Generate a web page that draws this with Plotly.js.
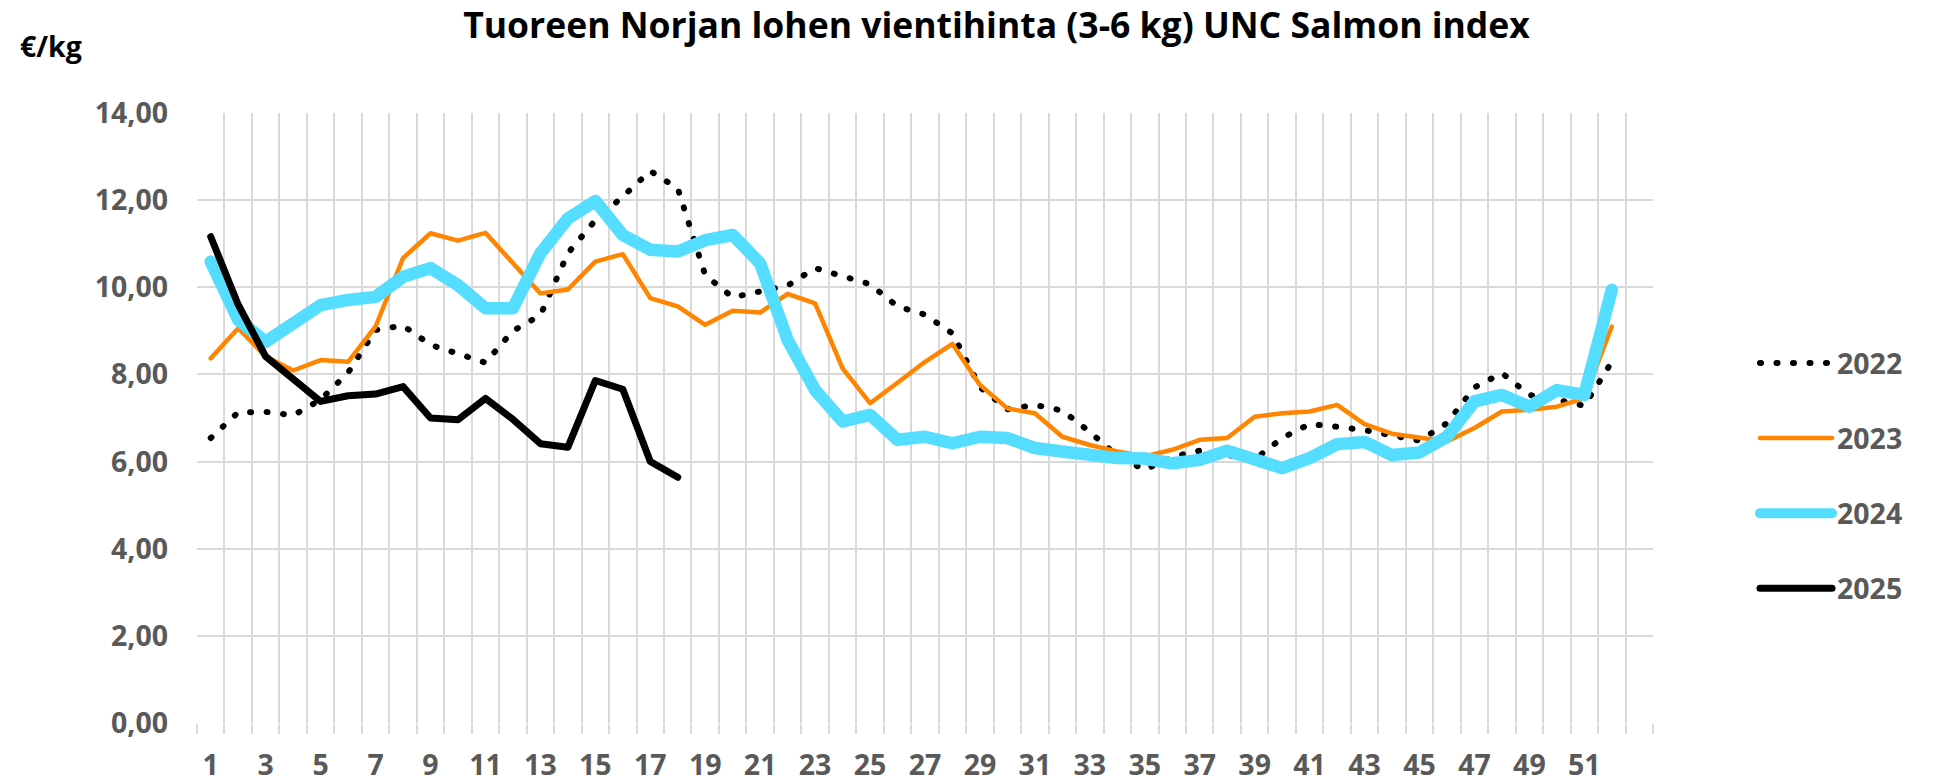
<!DOCTYPE html>
<html>
<head>
<meta charset="utf-8">
<script src="https://cdn.plot.ly/plotly-3.0.1.min.js"></script>
<style>
  html, body { margin: 0; padding: 0; background: #ffffff; }
  #chart { width: 1935px; height: 782px; }
  .js-line { stroke-linecap: round !important; stroke-linejoin: round !important; }
</style>
</head>
<body>
<div id="chart"></div>
<script>
// ---- data ----
const weeks = [1,2,3,4,5,6,7,8,9,10,11,12,13,14,15,16,17,18,19,20,21,22,23,24,25,26,
               27,28,29,30,31,32,33,34,35,36,37,38,39,40,41,42,43,44,45,46,47,48,49,50,51,52];
const weeks2025 = [1,2,3,4,5,6,7,8,9,10,11,12,13,14,15,16,17,18];
const tickWeeks = [1,3,5,7,9,11,13,15,17,19,21,23,25,27,29,31,33,35,37,39,41,43,45,47,49,51];
const tickLabels = ['1','3','5','7','9','11','13','15','17','19','21','23','25','27','29','31','33','35','37','39','41','43','45','47','49','51'];
const seriesNames = ['2022','2023','2024','2025'];

const price2022 = [6.54,7.13,7.14,7.06,7.42,8.04,9.02,9.12,8.68,8.49,8.27,9.00,9.36,10.78,11.54,12.08,12.67,12.27,
                   10.28,9.77,9.92,10.04,10.44,10.26,10.07,9.56,9.37,8.94,7.71,7.20,7.30,7.17,6.68,6.13,5.81,6.11,
                   6.25,6.15,6.05,6.54,6.86,6.80,6.72,6.60,6.48,6.88,7.70,8.03,7.53,7.42,7.28,8.29];
const price2023 = [8.37,9.06,8.41,8.09,8.33,8.29,9.10,10.67,11.24,11.07,11.25,10.55,9.86,9.95,10.59,10.76,9.75,9.56,
                   9.14,9.46,9.42,9.85,9.63,8.14,7.34,7.81,8.29,8.70,7.76,7.22,7.11,6.57,6.38,6.23,6.12,6.27,
                   6.50,6.54,7.03,7.11,7.15,7.30,6.86,6.64,6.54,6.46,6.77,7.15,7.19,7.26,7.45,9.10];
const price2024 = [10.59,9.25,8.75,9.14,9.59,9.71,9.78,10.24,10.44,10.05,9.52,9.52,10.78,11.58,11.98,11.20,10.86,10.82,
                   11.08,11.20,10.55,8.79,7.64,6.92,7.07,6.50,6.57,6.42,6.57,6.54,6.31,6.23,6.13,6.08,6.07,5.96,
                   6.04,6.25,6.05,5.85,6.08,6.40,6.45,6.15,6.21,6.57,7.38,7.53,7.26,7.64,7.53,9.94];
const price2025 = [11.16,9.60,8.41,7.89,7.38,7.51,7.55,7.72,7.00,6.96,7.45,6.97,6.41,6.33,7.86,7.66,6.00,5.64];

// category boundaries (gridlines between weeks), weeks 1..53 on the category axis
const nCategories = 53;
const gridPos = [];
for (let i = 0; i <= nCategories; i++) gridPos.push(i + 0.5);

// ---- styling ----
const FONT = 'Open Sans, Noto Sans, sans-serif';
const GRID = '#D9D9D9';
const LABEL = '#595959';

const traces = [
  { x: weeks, y: price2022, name: seriesNames[0], type: 'scatter', mode: 'lines', legendgroup: 'g22',
    line: { color: '#000000', width: 6, dash: '1px,15.5px' }, hoverinfo: 'skip' },
  { x: weeks, y: price2023, name: seriesNames[1], type: 'scatter', mode: 'lines', legendgroup: 'g23',
    line: { color: '#FF8500', width: 4.5 }, hoverinfo: 'skip' },
  { x: weeks, y: price2024, name: seriesNames[2], type: 'scatter', mode: 'lines', legendgroup: 'g24',
    line: { color: '#55DDFF', width: 12.5 }, hoverinfo: 'skip' },
  { x: weeks2025, y: price2025, name: seriesNames[3], type: 'scatter', mode: 'lines', legendgroup: 'g25',
    xaxis: 'x2', line: { color: '#000000', width: 7 }, hoverinfo: 'skip' }
];

const layout = {
  width: 1935, height: 782,
  paper_bgcolor: '#ffffff', plot_bgcolor: '#ffffff',
  margin: { l: 197, r: 282, t: 113, b: 59, pad: 0 },
  separators: ', ',
  font: { family: FONT, color: LABEL },
  title: {
    text: 'Tuoreen Norjan lohen vientihinta (3-6 kg) UNC Salmon index',
    font: { family: FONT, size: 35.5, weight: 700, color: '#000000' },
    xref: 'container', x: 0.515, xanchor: 'center',
    yref: 'container', y: 1 - 26 / 782, yanchor: 'middle'
  },
  xaxis: {
    range: [0.5, nCategories + 0.5], fixedrange: true,
    tickmode: 'array', tickvals: gridPos, showticklabels: false,
    ticks: 'outside', ticklen: 10, tickwidth: 2, tickcolor: GRID,
    showgrid: true, gridcolor: GRID, gridwidth: 2,
    zeroline: false, showline: false
  },
  xaxis2: {
    overlaying: 'x', anchor: 'y', side: 'bottom',
    range: [0.5, nCategories + 0.5], fixedrange: true,
    tickmode: 'array', tickvals: tickWeeks, ticktext: tickLabels,
    ticks: '', showgrid: false, zeroline: false, showline: false,
    tickfont: { family: FONT, size: 28.5, weight: 700, color: LABEL },
    ticklabelstandoff: 22
  },
  yaxis: {
    range: [0, 14], fixedrange: true,
    tickmode: 'linear', tick0: 0, dtick: 2, tickformat: '.2f',
    showgrid: true, gridcolor: GRID, gridwidth: 2,
    zeroline: false, showline: false, ticks: '',
    tickfont: { family: FONT, size: 28.5, weight: 700, color: LABEL },
    ticklabelstandoff: 28
  },
  showlegend: true,
  legend: {
    orientation: 'v',
    xref: 'container', x: 1755 / 1935, xanchor: 'left',
    yref: 'container', y: 1 - 338 / 782, yanchor: 'top',
    itemwidth: 72, tracegroupgap: 35,
    bgcolor: 'rgba(0,0,0,0)', borderwidth: 0,
    font: { family: FONT, size: 28.5, weight: 700, color: LABEL }
  },
  annotations: [{
    text: '€/kg', showarrow: false,
    xref: 'paper', yref: 'paper',
    x: (18 - 197) / 1456, xanchor: 'left',
    y: (723 - 46) / 610, yanchor: 'middle',
    font: { family: FONT, size: 28.5, weight: 700, color: '#000000' }
  }]
};

Plotly.newPlot('chart', traces, layout, { staticPlot: true, displayModeBar: false });
</script>
</body>
</html>
